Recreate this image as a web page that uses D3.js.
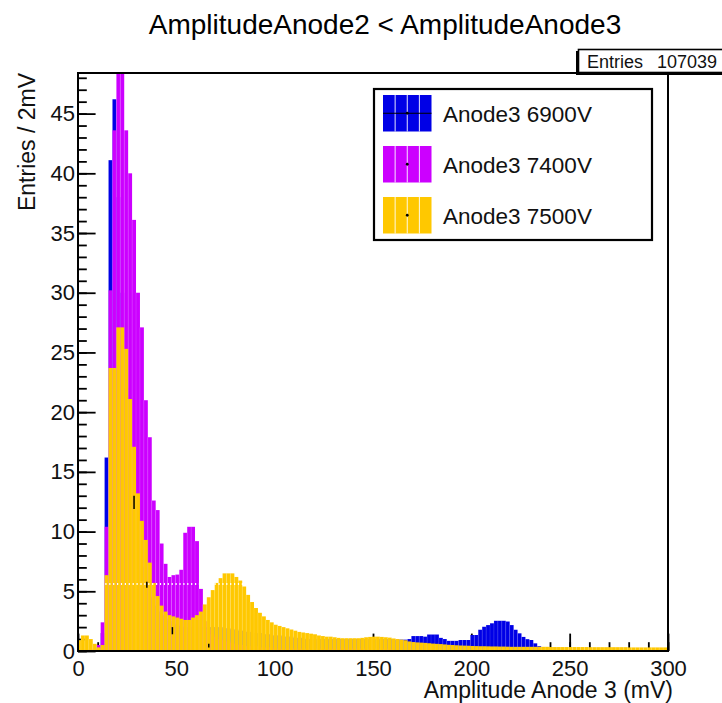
<!DOCTYPE html>
<html>
<head>
<meta charset="utf-8">
<script src="https://cdn.jsdelivr.net/npm/d3@7"></script>
<style>
  body { margin: 0; background: #fff; }
  svg { display: block; font-family: "Liberation Sans", Arial, sans-serif; }
</style>
</head>
<body>
<svg id="chart" width="722" height="703"></svg>
<script>
// three overlaid ROOT histograms, 2 mV bins starting at -0.5 mV

const BIN_LOW = -0.5;
const BIN_WIDTH = 2;

const seriesNames = ["Anode3 6900V", "Anode3 7400V", "Anode3 7500V"];
const seriesColors = ["#0000e6", "#cc00ff", "#ffc800"];

// entries per bin (150 bins)
const counts6900 = [
  0, 0, 0, 0, 0.1, 0.3, 1.5, 16.2, 41.1, 46.2,
  38, 30, 22, 16, 12, 9, 7, 5.5, 4.5, 3.8,
  3.3, 3.0, 2.7, 2.5, 2.3, 2.2, 2.1, 2.0, 2.0, 2.0,
  2.0, 2.0, 2.0, 2.0, 2.0, 2.0, 2.0, 1.9, 1.9, 1.8,
  1.8, 1.7, 1.7, 1.6, 1.6, 1.5, 1.5, 1.4, 1.4, 1.3,
  1.3, 1.3, 1.2, 1.2, 1.2, 1.1, 1.1, 1.1, 1.0, 1.0,
  1.0, 1.0, 1.0, 1.0, 1.0, 1.0, 1.0, 1.0, 1.0, 1.0,
  1.0, 1.0, 1.0, 1.0, 1.0, 1.0, 1.0, 1.0, 1.0, 1.0,
  0.95, 0.95, 0.95, 0.95, 1.0, 1.25, 1.25, 1.25, 1.2, 1.38,
  1.38, 1.38, 1.1, 1.0, 0.85, 0.85, 0.85, 0.92, 0.92, 0.92,
  1.34, 1.34, 1.78, 2.03, 2.17, 2.32, 2.53, 2.53, 2.53, 2.47,
  2.17, 1.78, 1.48, 1.18, 0.99, 0.92, 0.64, 0.4, 0, 0,
  0, 0, 0, 0, 0, 0, 0, 0, 0, 0,
  0, 0, 0, 0, 0, 0, 0, 0, 0, 0,
  0, 0, 0, 0, 0, 0, 0, 0, 0, 0
];

const counts7400 = [
  0.1, 0.1, 0.1, 0.1, 0.2, 0.5, 2.4, 10.4, 30.2, 43.6,
  52, 48.6, 43.6, 40.0, 36.1, 30.0, 27.1, 21.0, 17.9, 12.6,
  11.8, 9.0, 7.3, 6.2, 6.35, 6.4, 6.8, 9.9, 10.4, 10.4,
  9.2, 5.2, 2.5, 1.8, 1.4, 1.2, 1.0, 0.9, 0.8, 0.7,
  0.6, 0.5, 0.5, 0.4, 0.4, 0.4, 0.3, 0.3, 0.3, 0.3,
  0.2, 0.2, 0.2, 0.2, 0.2, 0.2, 0.2, 0.2, 0.2, 0.2,
  0.2, 0.2, 0.2, 0.2, 0.2, 0.2, 0.2, 0.2, 0.2, 0.2,
  0.2, 0.2, 0.2, 0.2, 0.2, 0.2, 0.2, 0.2, 0.2, 0.2,
  0.1, 0.1, 0.1, 0.1, 0.1, 0.1, 0.1, 0.1, 0.1, 0.1,
  0.1, 0.1, 0.1, 0.1, 0.1, 0.1, 0.1, 0.1, 0.1, 0.1,
  0.1, 0.1, 0.1, 0.1, 0.1, 0.1, 0.1, 0.1, 0.1, 0.1,
  0.1, 0.1, 0.1, 0.1, 0.1, 0.1, 0.1, 0.1, 0.1, 0.1,
  0.1, 0.1, 0.1, 0.1, 0.1, 0.1, 0.1, 0.1, 0.1, 0.1,
  0.1, 0.1, 0.1, 0.1, 0.1, 0.1, 0.1, 0.1, 0.1, 0.1,
  0.1, 0.1, 0.1, 0.1, 0.1, 0.1, 0.1, 0.1, 0.1, 0.1
];

const counts7500 = [
  0.9, 1.3, 1.3, 1.0, 0.6, 0.3, 0.5, 6.35, 23.7, 23.7,
  27.1, 27.1, 25.3, 21.1, 17.1, 13.2, 10.9, 9.3, 7.4, 5.7,
  4.6, 3.8, 3.3, 3.0, 2.9, 2.8, 2.7, 2.6, 2.6, 2.8,
  3.0, 3.3, 3.9, 4.5, 5.1, 5.7, 6.1, 6.5, 6.5, 6.5,
  6.2, 5.9, 5.4, 4.7, 4.1, 3.6, 3.2, 2.9, 2.6, 2.4,
  2.2, 2.1, 2.0, 1.9, 1.8, 1.7, 1.6, 1.55, 1.5, 1.45,
  1.4, 1.3, 1.25, 1.2, 1.2, 1.15, 1.1, 1.07, 1.07, 1.07,
  1.07, 1.07, 1.1, 1.15, 1.18, 1.2, 1.2, 1.18, 1.15, 1.12,
  1.05, 1.0, 0.95, 0.9, 0.8, 0.75, 0.72, 0.7, 0.68, 0.65,
  0.62, 0.6, 0.58, 0.55, 0.52, 0.5, 0.48, 0.46, 0.45, 0.44,
  0.42, 0.41, 0.4, 0.4, 0.39, 0.38, 0.38, 0.37, 0.37, 0.36,
  0.35, 0.35, 0.35, 0.35, 0.35, 0.35, 0.35, 0.35, 0.35, 0.35,
  0.33, 0.33, 0.33, 0.33, 0.33, 0.33, 0.33, 0.33, 0.33, 0.33,
  0.32, 0.32, 0.32, 0.32, 0.32, 0.32, 0.32, 0.32, 0.32, 0.32,
  0.3, 0.3, 0.3, 0.3, 0.3, 0.3, 0.3, 0.3, 0.3, 0.3
];

// black error bars showing through the stack: [mV, low, high]
const errorMarks = [[28.5, 11.9, 13.0], [35, 5.3, 5.8], [48, 1.4, 2.0], [66.5, 0.3, 0.6]];

const xMajorTicks = [0, 50, 100, 150, 200, 250, 300];
const yMajorTicks = [0, 5, 10, 15, 20, 25, 30, 35, 40, 45];
const X_MAX = 300;
const Y_MAX = 48.4;
const DASH_LEVEL = 5.6;

const titleText = "AmplitudeAnode2 < AmplitudeAnode3";
const xTitle = "Amplitude Anode 3 (mV)";
const yTitle = "Entries / 2mV";
const entries = 107039;


function drawHist(g, counts, color, x, y)
{
  let bins = counts.map((v, i) => ({lo: BIN_LOW + i * BIN_WIDTH, v: v})).filter(d => d.v > 0);
  let hg = g.append("g");
  hg.selectAll("rect").data(bins).enter().append("rect")
    .attr("x", d => x(d.lo))
    .attr("width", d => x(d.lo + BIN_WIDTH) - x(d.lo))
    .attr("y", d => y(d.v))
    .attr("height", d => y(0) - y(d.v))
    .attr("fill", color);
  // faint bin separators like the ROOT export
  hg.selectAll("line").data(bins).enter().append("line")
    .attr("x1", d => x(d.lo)).attr("x2", d => x(d.lo))
    .attr("y1", d => y(d.v)).attr("y2", y(0))
    .attr("stroke", "#fff").attr("stroke-opacity", 0.18).attr("stroke-width", 0.7);
}


window.onload = function ()
{
  const W = 722, H = 703;
  const margin = {left: 78, right: 54, top: 73, bottom: 52};
  let svg = d3.select("#chart");

  let x = d3.scaleLinear().domain([0, X_MAX]).range([margin.left, W - margin.right]);
  let y = d3.scaleLinear().domain([0, Y_MAX]).range([H - margin.bottom, margin.top]);

  // ticks go first so the bars hide them, as in ROOT "same" drawing
  let xMinor = d3.axisBottom(x).tickValues(d3.range(0, X_MAX + 1, 10)).tickSize(-8.8).tickFormat("");
  let xMajor = d3.axisBottom(x).tickValues(xMajorTicks).tickSize(-17.4).tickPadding(9).tickFormat(d3.format("d"));
  let yMinor = d3.axisLeft(y).tickValues(d3.range(0, 49, 1)).tickSize(-8.8).tickFormat("");
  let yMajor = d3.axisLeft(y).tickValues(yMajorTicks).tickSize(-17.6).tickPadding(3).tickFormat(d3.format("d"));

  let axes = svg.append("g");
  [xMinor, xMajor].forEach(a => {
    axes.append("g").attr("transform", `translate(0,${H - margin.bottom})`).call(a);
  });
  [yMinor, yMajor].forEach(a => {
    axes.append("g").attr("transform", `translate(${margin.left},0)`).call(a);
  });
  axes.selectAll(".domain").remove();
  axes.selectAll(".tick line").attr("stroke", "#000").attr("stroke-width", 1.8);
  axes.selectAll(".tick text").attr("font-size", 22).attr("fill", "#111")
    .attr("font-family", "Liberation Sans, Arial, sans-serif");

  // histograms
  svg.append("clipPath").attr("id", "plotClip").append("rect")
    .attr("x", margin.left).attr("y", margin.top)
    .attr("width", W - margin.left - margin.right).attr("height", H - margin.top - margin.bottom);
  let plot = svg.append("g").attr("clip-path", "url(#plotClip)");
  drawHist(plot, counts6900, seriesColors[0], x, y);
  drawHist(plot, counts7400, seriesColors[1], x, y);
  drawHist(plot, counts7500, seriesColors[2], x, y);

  plot.append("line")
    .attr("x1", x(0)).attr("x2", x(X_MAX))
    .attr("y1", y(DASH_LEVEL)).attr("y2", y(DASH_LEVEL))
    .attr("stroke", "#fff").attr("stroke-width", 2).attr("stroke-dasharray", "1.2 2.7");

  plot.selectAll(".err").data(errorMarks).enter().append("line")
    .attr("class", "err")
    .attr("x1", d => x(d[0])).attr("x2", d => x(d[0]))
    .attr("y1", d => y(d[2])).attr("y2", d => y(d[1]))
    .attr("stroke", "#000").attr("stroke-width", 1.5);

  // frame
  svg.append("rect")
    .attr("x", margin.left).attr("y", margin.top)
    .attr("width", W - margin.left - margin.right).attr("height", H - margin.top - margin.bottom)
    .attr("fill", "none").attr("stroke", "#000").attr("stroke-width", 2);

  // titles
  svg.append("text").attr("x", 385).attr("y", 34)
    .attr("text-anchor", "middle").attr("font-size", 28).text(titleText);
  svg.append("text").attr("x", 673).attr("y", 698)
    .attr("text-anchor", "end").attr("font-size", 23).attr("fill", "#111").text(xTitle);
  svg.append("text").attr("transform", "translate(35,73) rotate(-90)")
    .attr("text-anchor", "end").attr("font-size", 23).attr("fill", "#111").text(yTitle);

  // stats box
  let stats = svg.append("g");
  stats.append("rect").attr("x", 576).attr("y", 51).attr("width", 160).attr("height", 24).attr("fill", "#000");
  stats.append("rect").attr("x", 578.5).attr("y", 49.5).attr("width", 160).attr("height", 23)
    .attr("fill", "#fff").attr("stroke", "#000").attr("stroke-width", 1.6);
  stats.append("text").attr("x", 587).attr("y", 68).attr("font-size", 18).attr("fill", "#111").text("Entries");
  stats.append("text").attr("x", 717).attr("y", 68).attr("text-anchor", "end")
    .attr("font-size", 18).attr("fill", "#111").text(entries);

  // legend
  let leg = svg.append("g");
  leg.append("rect").attr("x", 374).attr("y", 89).attr("width", 278).attr("height", 151)
    .attr("fill", "#fff").attr("stroke", "#000").attr("stroke-width", 2.2);
  let rowTop = [95, 146, 197];
  seriesNames.forEach((name, i) => {
    let bx = 383, bw = 48.5, bh = 36.5, by = rowTop[i];
    let row = leg.append("g");
    row.append("rect").attr("x", bx).attr("y", by).attr("width", bw).attr("height", bh).attr("fill", seriesColors[i]);
    d3.range(1, 4).forEach(k => {
      row.append("line").attr("x1", bx + k * bw / 4).attr("x2", bx + k * bw / 4)
        .attr("y1", by).attr("y2", by + bh).attr("stroke", "#fff").attr("stroke-width", 0.9);
    });
    if (i === 0)
    {
      row.append("line").attr("x1", bx).attr("x2", bx + bw)
        .attr("y1", by + bh / 2).attr("y2", by + bh / 2).attr("stroke", "#000").attr("stroke-width", 1);
    }
    row.append("circle").attr("cx", bx + bw / 2).attr("cy", by + bh / 2).attr("r", 1.4).attr("fill", "#000");
    row.append("text").attr("x", 443).attr("y", by + 27).attr("font-size", 22.5).attr("fill", "#111").text(name);
  });
};
</script>
</body>
</html>
